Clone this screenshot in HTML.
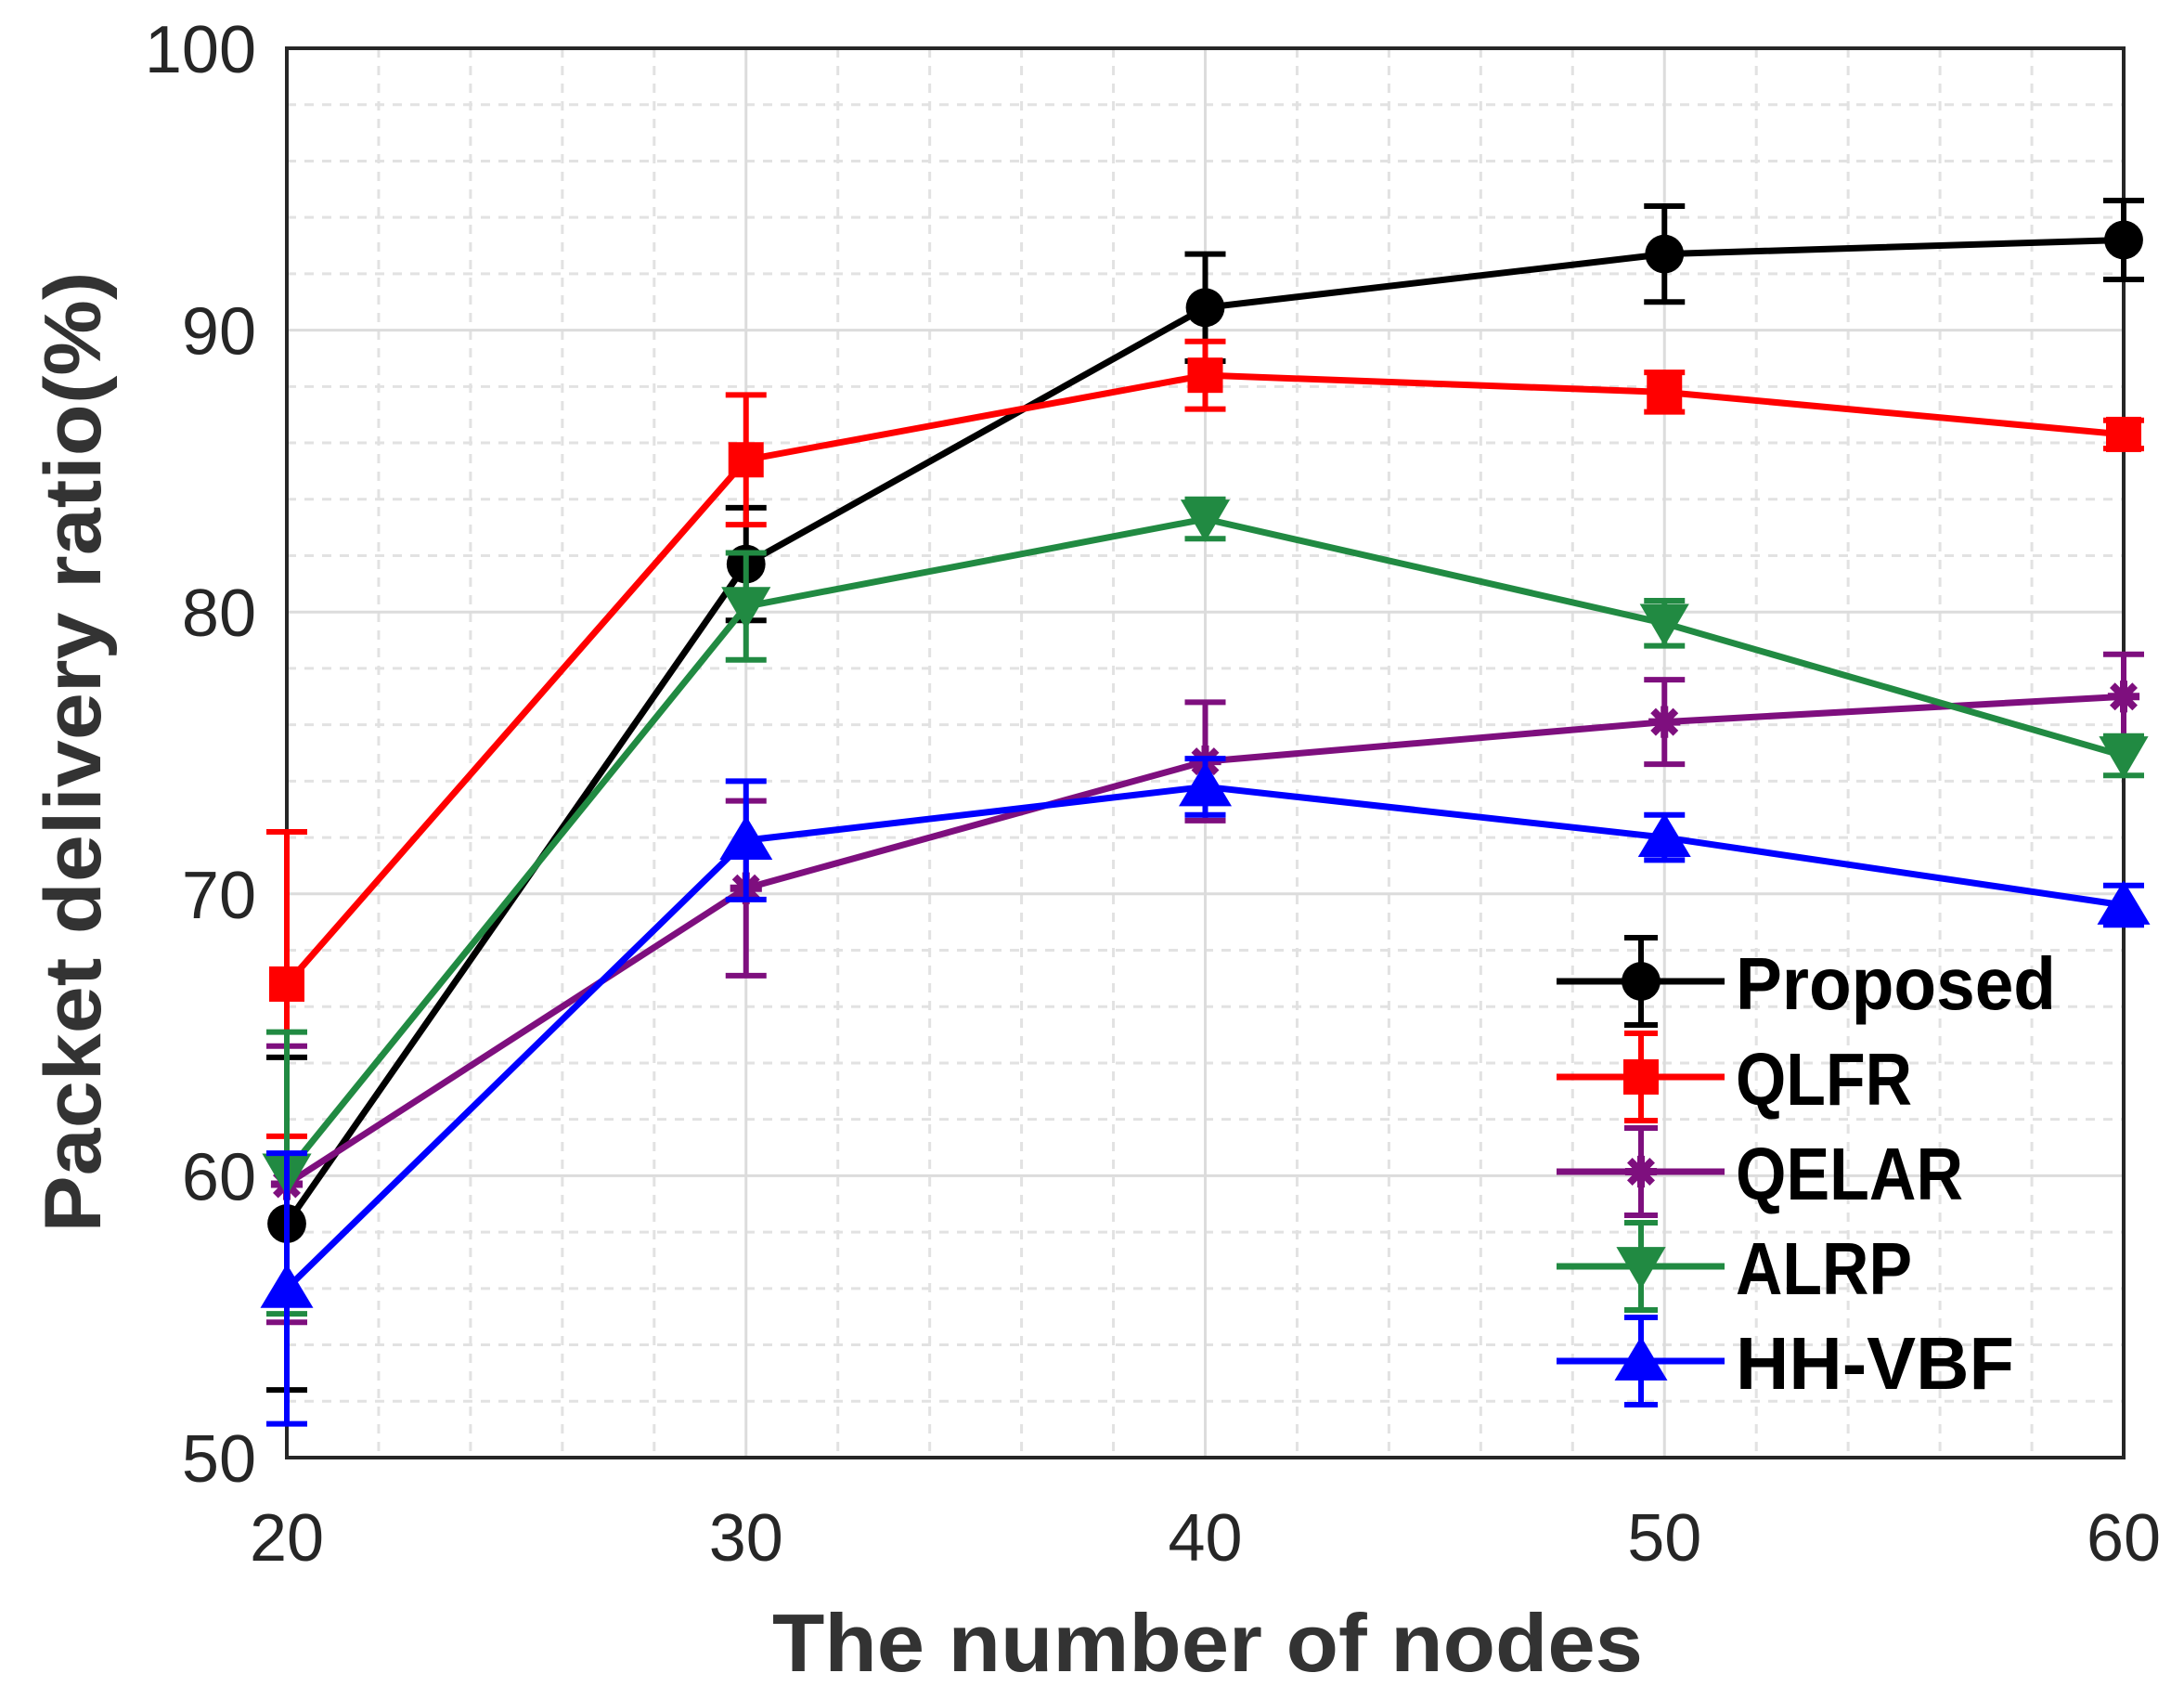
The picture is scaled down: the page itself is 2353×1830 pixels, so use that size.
<!DOCTYPE html>
<html><head><meta charset="utf-8"><style>
html,body{margin:0;padding:0;background:#fff;}
svg{display:block;}
</style></head><body>
<svg id="chart" width="2353" height="1830" viewBox="0 0 2353 1830" xmlns="http://www.w3.org/2000/svg">
<g id="grid"></g>
<g id="axes"></g>
<g id="series"></g>
<g id="legend"></g>
<text x="1301" y="1800" text-anchor="middle" font-family="Liberation Sans, sans-serif" font-weight="bold" font-size="88" fill="#333" textLength="938" lengthAdjust="spacingAndGlyphs">The number of nodes</text>
<text transform="translate(108,810) rotate(-90)" text-anchor="middle" font-family="Liberation Sans, sans-serif" font-weight="bold" font-size="86" fill="#333" textLength="1035" lengthAdjust="spacingAndGlyphs">Packet delivery ratio(%)</text>
</svg>
<script>
const categories = [20, 30, 40, 50, 60];
const xTicks = ["20", "30", "40", "50", "60"];
const yTicks = ["50", "60", "70", "80", "90", "100"];
const seriesNames = ["Proposed", "QLFR", "QELAR", "ALRP", "HH-VBF"];
const proposed = [58.3, 81.7, 90.8, 92.7, 93.2];
const proposedErr = [5.9, 2.0, 1.9, 1.7, 1.4];
const qlfr = [66.8, 85.4, 88.4, 87.8, 86.3];
const qlfrErr = [5.4, 2.3, 1.2, 0.7, 0.5];
const qelar = [59.7, 70.2, 74.7, 76.1, 77.0];
const qelarErr = [4.9, 3.1, 2.1, 1.5, 1.5];
const alrp = [60.1, 80.2, 83.3, 79.6, 74.9];
const alrpErr = [5.0, 1.9, 0.7, 0.8, 0.7];
const hhvbf = [56.0, 71.9, 73.8, 72.0, 69.6];
const hhvbfErr = [4.8, 2.1, 1.0, 0.8, 0.7];

const NS = "http://www.w3.org/2000/svg";
const L = 309, R = 2288, T = 52, B = 1570;
const xMin = 20, xMax = 60, yMin = 50, yMax = 100;
const xs = v => L + (v - xMin) / (xMax - xMin) * (R - L);
const ys = v => B - (v - yMin) / (yMax - yMin) * (B - T);
function mk(tag, attrs, parent) {
  const e = document.createElementNS(NS, tag);
  for (const k in attrs) e.setAttribute(k, attrs[k]);
  parent.appendChild(e);
  return e;
}
const grid = document.getElementById('grid');
const axes = document.getElementById('axes');
const series = document.getElementById('series');
const legend = document.getElementById('legend');

for (let v = xMin + 2; v < xMax; v += 2) {
  if (v % 10 === 0) continue;
  const g = mk('line', {x1: xs(v), x2: xs(v), y1: T, y2: B, stroke: '#e2e2e2', 'stroke-width': 3, 'stroke-dasharray': '10 9'}, grid);
  
  
}
for (let v = yMin + 2; v < yMax; v += 2) {
  if (v % 10 === 0) continue;
  const g = mk('line', {x1: L, x2: R, y1: ys(v), y2: ys(v), stroke: '#e2e2e2', 'stroke-width': 3, 'stroke-dasharray': '10 9'}, grid);
  
  
}
xTicks.forEach(t => {
  const v = +t;
  const g = mk('line', {x1: xs(v), x2: xs(v), y1: T, y2: B, stroke: '#dcdcdc', 'stroke-width': 3}, grid);
  
  
  const tk = mk('text', {x: xs(v), y: 1681, 'text-anchor': 'middle', 'font-family': 'Liberation Sans, sans-serif', 'font-size': 72, fill: '#262626'}, axes);
  tk.textContent = t;
  
  
});
yTicks.forEach(t => {
  const v = +t;
  const g = mk('line', {x1: L, x2: R, y1: ys(v), y2: ys(v), stroke: '#dcdcdc', 'stroke-width': 3}, grid);
  
  
  const tk = mk('text', {x: 276, y: ys(v) + 26, 'text-anchor': 'end', 'font-family': 'Liberation Sans, sans-serif', 'font-size': 72, fill: '#262626'}, axes);
  tk.textContent = t;
  
  
});
const box = mk('rect', {x: L, y: T, width: R - L, height: B - T, fill: 'none', stroke: '#262626', 'stroke-width': 4}, axes);



function marker(type, cx, cy, color, parent, s) {
  let m;
  if (type === 'circle') m = mk('circle', {cx: cx, cy: cy, r: s * 0.55, fill: color}, parent);
  else if (type === 'square') m = mk('rect', {x: cx - s / 2, y: cy - s / 2, width: s, height: s, fill: color}, parent);
  else if (type === 'star') { m = mk('path', {d: `M${cx-s*0.45},${cy}L${cx+s*0.45},${cy}M${cx},${cy-s*0.45}L${cx},${cy+s*0.45}M${cx-s*0.32},${cy-s*0.32}L${cx+s*0.32},${cy+s*0.32}M${cx-s*0.32},${cy+s*0.32}L${cx+s*0.32},${cy-s*0.32}`, stroke: color, 'stroke-width': 8}, parent); }
  else if (type === 'down') m = mk('polygon', {points: `${cx-s*0.7},${cy-s*0.55} ${cx+s*0.7},${cy-s*0.55} ${cx},${cy+s*0.65}`, fill: color}, parent);
  else m = mk('polygon', {points: `${cx-s*0.75},${cy+s*0.55} ${cx+s*0.75},${cy+s*0.55} ${cx},${cy-s*0.7}`, fill: color}, parent);
  return m;
}

const allVals = [proposed, qlfr, qelar, alrp, hhvbf];
const allErr = [proposedErr, qlfrErr, qelarErr, alrpErr, hhvbfErr];
const colors = ['#000000', '#ff0000', '#7e0f7e', '#218a42', '#0000ff'];
const markers = ['circle', 'square', 'star', 'down', 'up'];
const keys = ['proposed', 'qlfr', 'qelar', 'alrp', 'hh-vbf'];

allVals.forEach((vals, si) => {
  const c = colors[si];
  const g = mk('g', {}, series);
  
  
  const pts = vals.map((v, i) => xs(categories[i]) + ',' + ys(v)).join(' ');
  const pl = mk('polyline', {points: pts, fill: 'none', stroke: c, 'stroke-width': 7, 'stroke-linejoin': 'round'}, g);
  
  
  vals.forEach((v, i) => {
    const x = xs(categories[i]), e = allErr[si][i];
    const y1 = ys(v + e), y2 = ys(v - e);
    const eb = mk('path', {d: `M${x},${y1}L${x},${y2}M${x-22},${y1}L${x+22},${y1}M${x-22},${y2}L${x+22},${y2}`, stroke: c, 'stroke-width': 6, fill: 'none'}, g);
    
    
    const m = marker(markers[si], x, ys(v), c, g, 38);
    
    
  });
});

const legY = [1057, 1160, 1262, 1364, 1466];
seriesNames.forEach((n, si) => {
  const c = colors[si], y = legY[si];
  const g = mk('g', {}, legend);
  
  
  mk('line', {x1: 1677, x2: 1858, y1: y, y2: y, stroke: c, 'stroke-width': 7}, g);
  mk('path', {d: `M1768,${y-47}L1768,${y+47}M1750,${y-47}L1786,${y-47}M1750,${y+47}L1786,${y+47}`, stroke: c, 'stroke-width': 6, fill: 'none'}, g);
  marker(markers[si], 1768, y, c, g, 38);
  const t = mk('text', {x: 1870, y: y + 30, 'font-family': 'Liberation Sans, sans-serif', 'font-weight': 'bold', 'font-size': 80, fill: '#000', 'textLength': [345, 190, 245, 190, 300][si], 'lengthAdjust': 'spacingAndGlyphs'}, g);
  t.textContent = n;
});
</script>
</body></html>
